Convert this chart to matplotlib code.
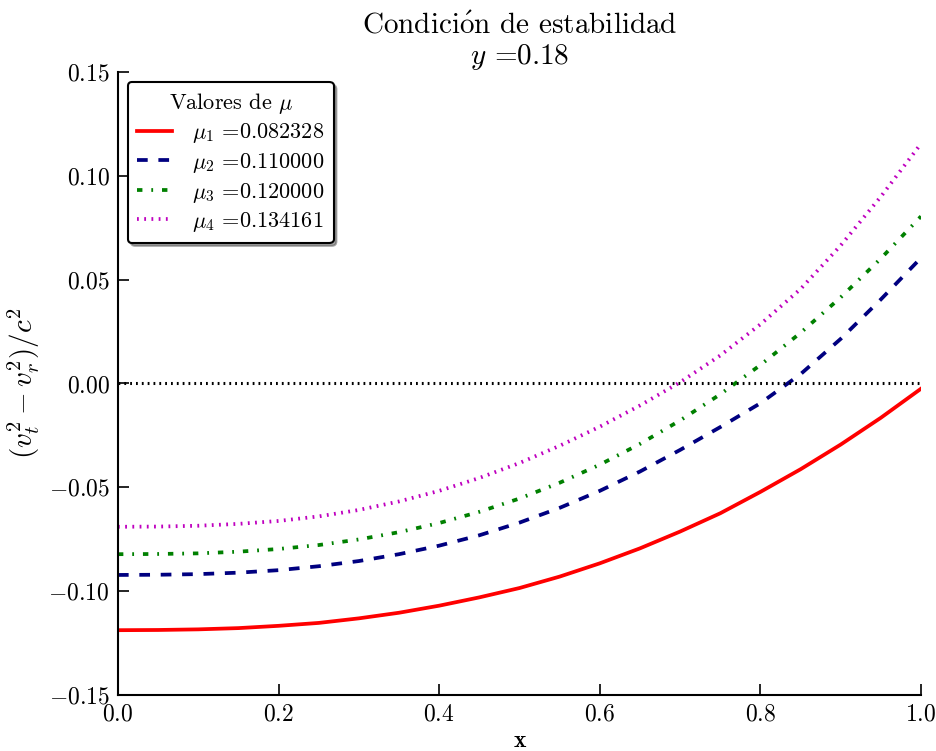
import matplotlib
matplotlib.use("Agg")
import matplotlib.pyplot as plt
from matplotlib.ticker import FuncFormatter

plt.rcParams['font.family'] = ['cmr10', 'DejaVu Serif']
plt.rcParams['mathtext.fontset'] = 'cm'
plt.rcParams['axes.unicode_minus'] = True
plt.rcParams['lines.scale_dashes'] = False

# ---- data ----
x = [0.00, 0.05, 0.10, 0.15, 0.20, 0.25, 0.30, 0.35, 0.40, 0.45, 0.50,
     0.55, 0.60, 0.65, 0.70, 0.75, 0.80, 0.85, 0.90, 0.95, 1.00]

mu_values = ["0.082328", "0.110000", "0.120000", "0.134161"]

y_mu1 = [-0.1188, -0.1187, -0.1184, -0.1178, -0.1167, -0.1153, -0.1131, -0.1104,
         -0.1070, -0.1030, -0.0985, -0.0930, -0.0866, -0.0794, -0.0713, -0.0625,
         -0.0522, -0.0413, -0.0294, -0.0165, -0.0025]
y_mu2 = [-0.0922, -0.0921, -0.0918, -0.0911, -0.0899, -0.0880, -0.0855, -0.0822,
         -0.0781, -0.0731, -0.0670, -0.0599, -0.0517, -0.0424, -0.0320, -0.0210,
         -0.0095, 0.0045, 0.0215, 0.0405, 0.0605]
y_mu3 = [-0.0822, -0.0821, -0.0818, -0.0810, -0.0797, -0.0778, -0.0751, -0.0716,
         -0.0672, -0.0618, -0.0554, -0.0478, -0.0391, -0.0291, -0.0178, -0.0052,
         0.0089, 0.0244, 0.0415, 0.0602, 0.0805]
y_mu4 = [-0.0690, -0.0689, -0.0685, -0.0676, -0.0662, -0.0640, -0.0609, -0.0568,
         -0.0517, -0.0455, -0.0383, -0.0300, -0.0208, -0.0106, 0.0006, 0.0135,
         0.0285, 0.0455, 0.0665, 0.0900, 0.1155]

series = [y_mu1, y_mu2, y_mu3, y_mu4]
colors = ['#ff0000', '#000080', '#008000', '#bf00bf']
dash_patterns = [None, (7.7, 7.7), (3.9, 6.4, 1.3, 6.4), (1.3, 3.9)]
y_value = "0.18"

fig = plt.figure(figsize=(9.36, 7.51), dpi=100)
ax = fig.add_axes([0.126, 0.0746, 0.858, 0.8295])

for i, (ys, c, dp) in enumerate(zip(series, colors, dash_patterns)):
    kw = dict(color=c, linewidth=2.7, label=r'$\mu_{%d}$ =%s' % (i + 1, mu_values[i]))
    if dp is None:
        ax.plot(x, ys, linestyle='-', **kw)
    else:
        ax.plot(x, ys, linestyle=(0, dp), dash_capstyle='butt', **kw)

ax.axhline(0.0, color='black', linestyle=(0, (1.3, 2.9)), linewidth=2.2)

ax.set_xlim(0, 1)
ax.set_ylim(-0.15, 0.15)
ax.set_xticks([0.0, 0.2, 0.4, 0.6, 0.8, 1.0])
ax.set_yticks([-0.15, -0.10, -0.05, 0.00, 0.05, 0.10, 0.15])
ax.xaxis.set_major_formatter(FuncFormatter(lambda v, p: r'$%.1f$' % v))
ax.yaxis.set_major_formatter(FuncFormatter(lambda v, p: r'$%.2f$' % (0.0 if abs(v) < 1e-9 else v)))

for s in ['top', 'right']:
    ax.spines[s].set_visible(False)
for s in ['left', 'bottom']:
    ax.spines[s].set_linewidth(1.5)
ax.tick_params(direction='in', length=8, width=1.2, labelsize=17,
               top=False, right=False, pad=6)

ax.set_xlabel('x', fontsize=17, family=['cmb10', 'DejaVu Serif'])
ax.xaxis.set_label_coords(0.5, -0.056)
ax.set_ylabel(r'$(v_t^2-v_r^2)/c^2$', fontsize=21)
ax.yaxis.set_label_coords(-0.095, 0.5)
ax.set_title(r'Condici$\mathrm{\acute{o}}$n de estabilidad' + '\n' + r'$y$ =' + y_value,
             fontsize=21, linespacing=1.1, pad=6)

leg = ax.legend(loc='upper left', title=r'Valores de $\mu$', fontsize=16,
                title_fontsize=16, shadow=True, fancybox=True,
                handlelength=1.6, borderaxespad=0.45, labelspacing=0.25,
                handletextpad=0.9, borderpad=0.4)
leg.get_frame().set_edgecolor('black')
leg.get_frame().set_linewidth(1.5)

fig.savefig('out.png', dpi=100)
